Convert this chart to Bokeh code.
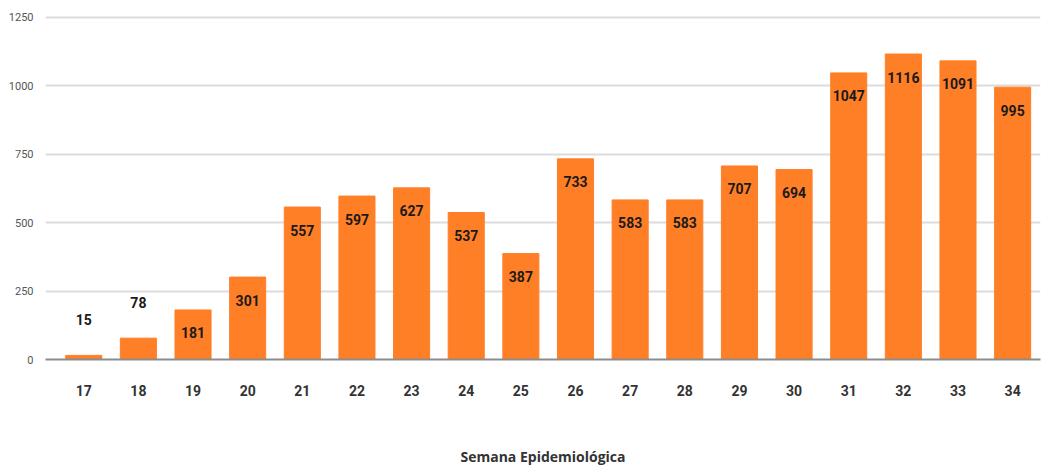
from bokeh.plotting import figure
from bokeh.models import ColumnDataSource, FixedTicker, Range1d
from bokeh.core.properties import value
from bokeh.embed import file_html
from bokeh.resources import INLINE

weeks = [17, 18, 19, 20, 21, 22, 23, 24, 25, 26, 27, 28, 29, 30, 31, 32, 33, 34]
cases = [15, 78, 181, 301, 557, 597, 627, 537, 387, 733, 583, 583, 707, 694, 1047, 1116, 1091, 995]
y_ticks = [0, 250, 500, 750, 1000, 1250]

BAR = "#FF7F27"
FONT = "Roboto"
TITLE_FONT = "Open Sans"

src = ColumnDataSource(dict(x=weeks, top=cases))
inside = [i for i, c in enumerate(cases) if c >= 150]
outside = [i for i, c in enumerate(cases) if c < 150]
src_in = ColumnDataSource(dict(x=[weeks[i] for i in inside], y=[cases[i] for i in inside],
                               label=[str(cases[i]) for i in inside]))
src_out = ColumnDataSource(dict(x=[weeks[i] for i in outside], y=[cases[i] for i in outside],
                                label=[str(cases[i]) for i in outside]))

p = figure(width=1041, height=470, output_backend="svg", toolbar_location=None,
           x_range=Range1d(16.30, 34.51), y_range=Range1d(0, 1275),
           min_border_left=45, min_border_right=1, min_border_top=10, min_border_bottom=111)
p.outline_line_color = None
p.background_fill_color = "white"
p.border_fill_color = "white"

p.vbar(x="x", top="top", width=0.66, source=src, color=BAR)

p.text(x="x", y="y", text="label", source=src_in, text_align="center", text_baseline="middle",
       y_offset=23, text_font=value(FONT), text_font_style="bold", text_font_size="14px",
       text_color="#1a1a1a")
p.text(x="x", y="y", text="label", source=src_out, text_align="center", text_baseline="middle",
       y_offset=-36, text_font=value(FONT), text_font_style="bold", text_font_size="14px",
       text_color="#1a1a1a")

p.xaxis.ticker = FixedTicker(ticks=weeks)
p.xaxis.major_tick_line_color = None
p.xaxis.minor_tick_line_color = None
p.xaxis.axis_line_color = "#8c8c8c"
p.xaxis.axis_line_width = 2
p.xaxis.major_label_text_font = FONT
p.xaxis.major_label_text_font_style = "bold"
p.xaxis.major_label_text_font_size = "14px"
p.xaxis.major_label_text_color = "#333333"
p.xaxis.major_label_standoff = 19
p.xaxis.axis_label = "Semana Epidemiológica"
p.xaxis.axis_label_text_font = TITLE_FONT
p.xaxis.axis_label_text_font_style = "bold"
p.xaxis.axis_label_text_font_size = "14px"
p.xaxis.axis_label_text_color = "#333333"
p.xaxis.axis_label_standoff = 48

p.yaxis.ticker = FixedTicker(ticks=y_ticks)
p.yaxis.axis_line_color = None
p.yaxis.major_tick_line_color = None
p.yaxis.minor_tick_line_color = None
p.yaxis.major_label_text_font = FONT
p.yaxis.major_label_text_font_size = "11px"
p.yaxis.major_label_text_color = "#555555"
p.yaxis.major_label_standoff = 6

p.xgrid.grid_line_color = None
p.ygrid.ticker = FixedTicker(ticks=y_ticks)
p.ygrid.grid_line_color = "#dcdcdc"
p.ygrid.grid_line_width = 2

open("out.html", "w").write(file_html(p, INLINE))
